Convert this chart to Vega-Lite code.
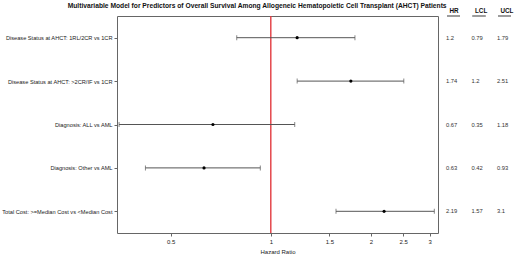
{
  "$schema": "https://vega.github.io/schema/vega-lite/v6.json",
  "padding": {"left": 1, "top": 3, "right": 2, "bottom": 0},
  "background": "white",
  "title": {"text": "Multivariable Model for Predictors of Overall Survival Among Allogeneic Hematopoietic Cell Transplant (AHCT) Patients", "font": "Liberation Sans", "fontSize": 6.7, "fontWeight": "bold", "color": "#111", "anchor": "middle", "offset": -3},
  "config": {
    "font": "Liberation Sans",
    "view": {"stroke": null},
    "axis": {"labelFont": "Liberation Sans", "titleFont": "Liberation Sans", "labelColor": "#222", "titleColor": "#222", "grid": false, "domainColor": "#666", "tickColor": "#666"}
  },
  "datasets": {
    "rows": [
      {"label": "Disease Status at AHCT: 1RL/2CR vs 1CR", "HR": 1.2, "LCL": 0.79, "UCL": 1.79},
      {"label": "Disease Status at AHCT: >2CR/IF vs 1CR", "HR": 1.74, "LCL": 1.2, "UCL": 2.51},
      {"label": "Diagnosis: ALL vs AML", "HR": 0.67, "LCL": 0.35, "UCL": 1.18},
      {"label": "Diagnosis: Other vs AML", "HR": 0.63, "LCL": 0.42, "UCL": 0.93},
      {"label": "Total Cost: >=Median Cost vs <Median Cost", "HR": 2.19, "LCL": 1.57, "UCL": 3.1}
    ],
    "ref": [{"x": 1}]
  },
  "spacing": 7,
  "hconcat": [
    {
      "width": 321,
      "height": 217,
      "view": {"stroke": "#666", "strokeWidth": 1},
      "data": {"name": "rows"},
      "encoding": {
        "y": {"field": "label", "type": "nominal", "sort": null, "scale": {"type": "point", "padding": 0.5},
          "axis": {"title": null, "labelFontSize": 5.65, "tickSize": 3, "labelPadding": 2, "domain": false}}
      },
      "layer": [
        {
          "data": {"name": "ref"},
          "mark": {"type": "rule", "color": "#e23a40", "strokeWidth": 1.4},
          "encoding": {"x": {"field": "x", "type": "quantitative"}, "y": null}
        },
        {
          "mark": {"type": "rule", "color": "#555", "strokeWidth": 1},
          "encoding": {
            "x": {"field": "LCL", "type": "quantitative", "scale": {"type": "log", "domain": [0.345, 3.18], "nice": false, "zero": false},
              "axis": {"title": "Hazard Ratio", "values": [0.5, 1, 1.5, 2, 2.5, 3], "labelFontSize": 6, "titleFontSize": 6, "titleFontWeight": "normal", "tickSize": 3, "labelPadding": 2, "titlePadding": 4, "domain": false, "labelFlush": false}},
            "x2": {"field": "UCL"}
          }
        },
        {
          "mark": {"type": "tick", "color": "#555", "thickness": 1, "size": 5},
          "encoding": {"x": {"field": "LCL", "type": "quantitative"}}
        },
        {
          "mark": {"type": "tick", "color": "#555", "thickness": 1, "size": 5},
          "encoding": {"x": {"field": "UCL", "type": "quantitative"}}
        },
        {
          "mark": {"type": "point", "filled": true, "color": "#000", "size": 10, "opacity": 1},
          "encoding": {"x": {"field": "HR", "type": "quantitative"}}
        }
      ]
    },
    {
      "width": 51,
      "height": 217,
      "data": {"name": "rows"},
      "transform": [{"fold": ["HR", "LCL", "UCL"], "as": ["col", "val"]}],
      "encoding": {
        "x": {"field": "col", "type": "nominal", "sort": ["HR", "LCL", "UCL"], "scale": {"type": "point", "padding": 0},
          "axis": {"orient": "top", "title": null, "domain": false, "ticks": false, "labelAngle": 0, "labelAlign": "left", "labelFontWeight": "bold", "labelFontSize": 6.3, "labelPadding": 3, "labelOffset": 3, "labelColor": "#111"}},
        "y": {"field": "label", "type": "nominal", "sort": null, "scale": {"type": "point", "padding": 0.5}, "axis": null}
      },
      "layer": [
        {
          "mark": {"type": "text", "align": "left", "baseline": "middle", "fontSize": 5.8, "color": "#333"},
          "encoding": {"text": {"field": "val", "type": "nominal"}}
        },
        {
          "mark": {"type": "rule", "color": "#999", "strokeWidth": 1, "xOffset": 1, "x2Offset": 14},
          "encoding": {"x2": {"field": "col"}, "y": {"value": 0}}
        }
      ]
    }
  ]
}
